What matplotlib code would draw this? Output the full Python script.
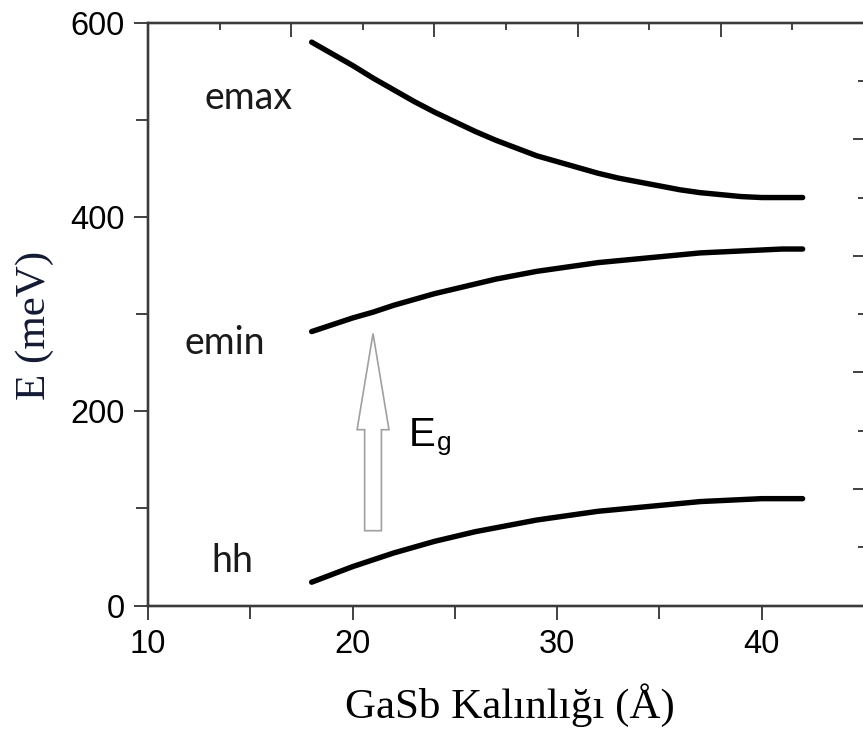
import matplotlib
matplotlib.use("Agg")
import matplotlib.pyplot as plt
from matplotlib.patches import FancyArrow
from matplotlib.ticker import MultipleLocator

# GaSb layer thickness (Å) and subband energies (meV)
thickness = list(range(18, 43))
e_max = [580, 568, 556, 543, 531, 519, 508, 498, 488, 479, 471, 463, 457,
         451, 445, 440, 436, 432, 428, 425, 423, 421, 420, 420, 420]
e_min = [282, 289, 296, 302, 309, 315, 321, 326, 331, 336, 340, 344, 347,
         350, 353, 355, 357, 359, 361, 363, 364, 365, 366, 367, 367]
e_hh = [24, 32, 40, 47, 54, 60, 66, 71, 76, 80, 84, 88, 91,
        94, 97, 99, 101, 103, 105, 107, 108, 109, 110, 110, 110]

curve_names = ["emax", "emin", "hh"]
curve_label_pos = [(12.75, 511), (11.8, 259), (13.1, 34)]

# band-gap arrow (x, tail energy, tip energy)
gap_x = 21.0
gap_from = 77
gap_to = 280

x_ticks = [10, 20, 30, 40]
y_ticks = [0, 200, 400, 600]

sans = "Liberation Sans"
serif = "Liberation Serif"
label_font = "Lato"

fig = plt.figure(figsize=(8.63, 7.35), dpi=100)
ax = fig.add_axes([148 / 863, 1 - 605.5 / 735, 716 / 863, (605.5 - 22.7) / 735])

for y in (e_max, e_min, e_hh):
    ax.plot(thickness, y, color="black", lw=3.9, solid_capstyle="round",
            solid_joinstyle="round", zorder=3)

ax.set_xlim(10, 45)
ax.set_ylim(0, 600)
ax.set_xticks(x_ticks)
ax.set_yticks(y_ticks)
ax.xaxis.set_minor_locator(MultipleLocator(5))
ax.yaxis.set_minor_locator(MultipleLocator(100))
ax.tick_params(axis="both", which="both", direction="out", top=False, right=False,
               color="#333333", width=1.3)
ax.tick_params(axis="both", which="major", length=10, pad=7, labelsize=23.5)
ax.tick_params(axis="both", which="minor", length=9)
for lab in ax.get_xticklabels() + ax.get_yticklabels():
    lab.set_fontfamily(sans)

for s in ax.spines.values():
    s.set_color("#3a3a3a")
    s.set_linewidth(1.6)

# secondary frame ticks along the top and right edges
ax_top = ax.twiny()
ax_top.set_xlim(0, 10)
ax_top.xaxis.set_major_locator(MultipleLocator(2))
ax_top.xaxis.set_minor_locator(MultipleLocator(1))
ax_top.tick_params(axis="x", which="both", direction="in", labeltop=False,
                   color="#333333", width=1.3)
ax_top.tick_params(axis="x", which="major", length=10)
ax_top.tick_params(axis="x", which="minor", length=5)

ax_right = ax.twinx()
ax_right.set_ylim(0, 10)
ax_right.yaxis.set_major_locator(MultipleLocator(2))
ax_right.yaxis.set_minor_locator(MultipleLocator(1))
ax_right.tick_params(axis="y", which="both", direction="in", labelright=False,
                     color="#333333", width=1.3)
ax_right.tick_params(axis="y", which="major", length=8)
ax_right.tick_params(axis="y", which="minor", length=4)
for a in (ax_top, ax_right):
    for s in a.spines.values():
        s.set_color("#3a3a3a")
        s.set_linewidth(1.6)

# curve names
for name, (tx, ty) in zip(curve_names, curve_label_pos):
    ax.text(tx, ty, name, fontsize=27, family=label_font, color="#1a1a1a",
            ha="left", va="baseline")

# hollow band-gap arrow
arrow = FancyArrow(gap_x, gap_from, 0, gap_to - gap_from, width=0.82,
                   head_width=1.56, head_length=99, length_includes_head=True,
                   facecolor="white", edgecolor="#a0a0a0", lw=1.2, zorder=2)
ax.add_patch(arrow)
ax.text(22.75, 164.5, "E", fontsize=29, family=sans, color="black",
        ha="left", va="baseline")
ax.text(24.1, 160, "g", fontsize=19, family=sans, color="black",
        ha="left", va="baseline")

fig.text(510 / 863, 1 - 705 / 735, "GaSb Kalınlığı (Å)", fontsize=31,
         family=serif, color="black", ha="center", va="center")
fig.text(35 / 863, 1 - 325 / 735, "E (meV)", fontsize=31, family=serif,
         color="#141a33", ha="center", va="center", rotation=90)

fig.savefig("out.png", dpi=100)
